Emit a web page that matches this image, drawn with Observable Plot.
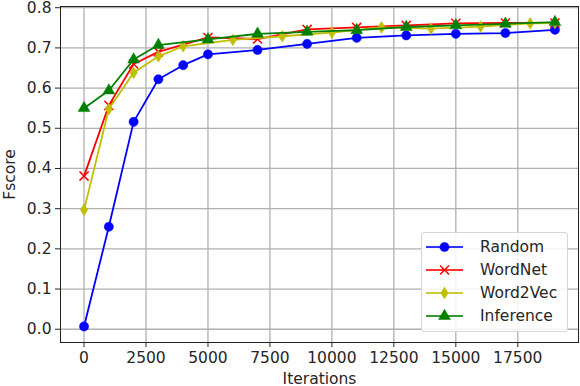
<!DOCTYPE html>
<html>
<head>
<meta charset="utf-8">
<script src="https://cdn.jsdelivr.net/npm/d3@7"></script>
<script src="https://cdn.jsdelivr.net/npm/@observablehq/plot@0.6"></script>
<style>
  html, body { margin: 0; padding: 0; background: #fff; }
  #wrap { position: relative; width: 580px; height: 386px; font-family: "DejaVu Sans", sans-serif; }
  #legend { position: absolute; left: 421px; top: 232px; width: 147px; height: 100px;
    border: 1px solid #d6d6d6; border-radius: 3px; background: rgba(255,255,255,0.85); box-sizing: border-box; }
  .row { position: absolute; left: 0; height: 22px; display: flex; align-items: center; }
  .row svg { display: block; }
  .row span { font-size: 15.5px; color: #262626; margin-left: 13px; white-space: nowrap; }
</style>
</head>
<body>
<div id="wrap"><div id="legend"></div></div>
<script>
// ---- data ----
const iterRandom    = [0, 1000, 2000, 3000, 4000, 5000, 7000, 9000, 11000, 13000, 15000, 17000, 19000];
const fRandom       = [0.007, 0.255, 0.516, 0.622, 0.657, 0.684, 0.695, 0.710, 0.725, 0.731, 0.735, 0.737, 0.745];
const iterWordNet   = [0, 1000, 2000, 3000, 5000, 7000, 9000, 11000, 13000, 15000, 17000, 19000];
const fWordNet      = [0.381, 0.557, 0.660, 0.690, 0.726, 0.722, 0.746, 0.751, 0.756, 0.761, 0.762, 0.762];
const iterWord2Vec  = [0, 1000, 2000, 3000, 4000, 6000, 8000, 10000, 12000, 14000, 16000, 18000, 19000];
const fWord2Vec     = [0.297, 0.548, 0.638, 0.679, 0.704, 0.720, 0.729, 0.738, 0.751, 0.748, 0.753, 0.761, 0.762];
const iterInference = [0, 1000, 2000, 3000, 5000, 7000, 9000, 11000, 13000, 15000, 17000, 19000];
const fInference    = [0.550, 0.594, 0.671, 0.707, 0.721, 0.735, 0.740, 0.744, 0.752, 0.756, 0.760, 0.764];

const seriesNames = ["Random", "WordNet", "Word2Vec", "Inference"];
const xTicks = [0, 2500, 5000, 7500, 10000, 12500, 15000, 17500];
const yTicks = [0, 0.1, 0.2, 0.3, 0.4, 0.5, 0.6, 0.7, 0.8];

// ---- styles ----
const thinDiamond = {
  draw(context, size) {
    const ry = Math.sqrt(size / Math.PI) * 1.35, rx = ry * 0.62;
    context.moveTo(0, -ry); context.lineTo(rx, 0); context.lineTo(0, ry); context.lineTo(-rx, 0); context.closePath();
  }
};
const styles = {
  Random:    {color: "#0000ff", symbol: "circle",   r: 4.6, filled: true},
  WordNet:   {color: "#ff0000", symbol: "times",    r: 4.2, filled: false},
  Word2Vec:  {color: "#bfbf00", symbol: thinDiamond, r: 4.4, filled: true},
  Inference: {color: "#008000", symbol: "triangle", r: 4.4, filled: true}
};

const toRows = (xs, ys) => xs.map((x, i) => ({x, y: ys[i]}));
const series = {
  Random: toRows(iterRandom, fRandom),
  WordNet: toRows(iterWordNet, fWordNet),
  Word2Vec: toRows(iterWord2Vec, fWord2Vec),
  Inference: toRows(iterInference, fInference)
};

const marks = [
  Plot.gridX(xTicks, {stroke: "#b0b0b0", strokeOpacity: 1, strokeWidth: 1.3}),
  Plot.gridY(yTicks, {stroke: "#b0b0b0", strokeOpacity: 1, strokeWidth: 1.3})
];
for (const name of seriesNames) {
  const s = styles[name];
  marks.push(Plot.line(series[name], {x: "x", y: "y", stroke: s.color, strokeWidth: 1.8}));
  marks.push(Plot.dot(series[name], {
    x: "x", y: "y", symbol: () => s.symbol, r: s.r,
    fill: s.filled ? s.color : "none", stroke: s.color, strokeWidth: s.filled ? 0.5 : 1.5
  }));
}
marks.push(Plot.frame({stroke: "#222", strokeWidth: 1}));

const chart = Plot.plot({
  width: 580, height: 386,
  marginLeft: 60, marginRight: 2, marginTop: 6, marginBottom: 44,
  style: {fontFamily: "DejaVu Sans, sans-serif", fontSize: "15.5px", color: "#262626", background: "white"},
  symbol: {type: "identity"},
  x: {domain: [-950, 19950], ticks: xTicks, tickFormat: d => String(d), label: "Iterations",
      labelAnchor: "center", labelArrow: "none", tickSize: 5, tickPadding: 4},
  y: {domain: [-0.033, 0.803], ticks: yTicks, tickFormat: d => d.toFixed(1), label: "Fscore",
      labelAnchor: "center", labelArrow: "none", tickSize: 5, tickPadding: 4},
  marks
});
document.getElementById("wrap").prepend(chart);
chart.style.display = "block";

// ---- legend (HTML overlay) ----
const legend = d3.select("#legend");
seriesNames.forEach((name, i) => {
  const s = styles[name];
  const row = legend.append("div").attr("class", "row").style("top", (3 + i * 23) + "px");
  const svg = row.append("svg").attr("width", 45).attr("height", 22);
  svg.append("line").attr("x1", 4).attr("x2", 41).attr("y1", 11).attr("y2", 11)
    .attr("stroke", s.color).attr("stroke-width", 2.2).attr("stroke-opacity", 0.8);
  const type = typeof s.symbol === "string"
    ? {circle: d3.symbolCircle, times: d3.symbolTimes, triangle: d3.symbolTriangle}[s.symbol]
    : s.symbol;
  svg.append("path").attr("transform", "translate(22.5,11)")
    .attr("d", d3.symbol(type, s.r * s.r * Math.PI)())
    .attr("fill", s.filled ? s.color : "none").attr("stroke", s.color)
    .attr("stroke-width", s.filled ? 0.5 : 1.5);
  row.append("span").text(name);
});
</script>
</body>
</html>
